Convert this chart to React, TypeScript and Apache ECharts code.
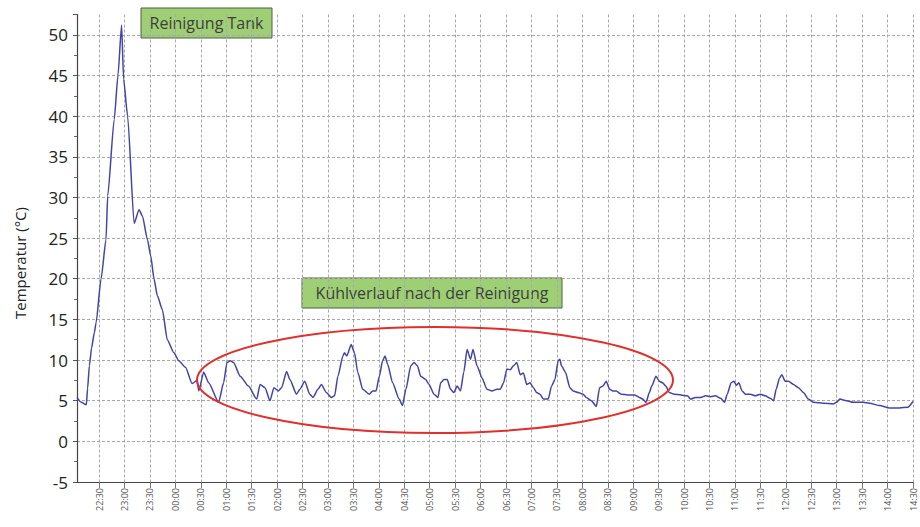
import React, { useEffect, useRef } from "react";
import * as echarts from "echarts";

// minutes after 22:00 (start day) for each sample
const minutes = [
  4, 9, 15, 16.5, 18.6, 21.2, 24.5, 26.5, 32.4, 38.2, 40.2, 47.9, 52.3, 56.6, 59, 63.7,
  71.4, 77.2, 81.2, 87.1, 91, 94.8, 98.8, 104.7, 110.5, 118.3, 124.1, 132, 139.8, 145.7,
  147.6, 153.4, 159.3, 171, 176.9, 180.9, 184.7, 188.6, 196.5, 206.2, 216, 219.9, 225.8,
  231.6, 236.3, 241.4, 245.3, 251.2, 255.1, 262.9, 266.8, 272.7, 278.5, 282.4, 288.2,
  292.2, 298.1, 303.9, 307.8, 311.7, 317.6, 319.5, 322.2, 327.4, 331.3, 335.1, 341,
  348.8, 352.7, 356.7, 360.6, 364.4, 367.3, 370.3, 376.2, 384, 387.9, 391.9, 397.7,
  401.6, 405.5, 409.4, 415.3, 419.2, 425, 429.7, 432.9, 436.8, 440.6, 444.6, 448.5,
  452.4, 456.3, 460.2, 464.1, 468.1, 471.1, 475.8, 481.7, 487.5, 493.4, 499.2, 503.2,
  507.1, 511, 515, 518.8, 522.7, 526.7, 530.5, 534.4, 538.4, 542.3, 546.1, 550.1, 554,
  559.8, 563.7, 567.7, 571.5, 573.5, 575.4, 580.1, 585.3, 589.2, 595, 600.9, 604.7,
  610.6, 616.5, 620.4, 624.3, 628.2, 632.2, 636, 639.9, 645.8, 653.6, 661.5, 667.3,
  671.2, 675.1, 679.1, 681.8, 686.9, 690.8, 694.7, 698.5, 702.5, 708.4, 716.1, 724,
  727.8, 733.7, 739.5, 745.4, 751.3, 757.1, 763, 767.7, 770.9, 775.5, 778.7, 781.7,
  784.6, 788.4, 792.3, 798.2, 804, 809.9, 815.8, 821.6, 825.6, 828.6, 832.6, 835.3,
  839.2, 843.2, 849, 854.9, 860.8, 866.6, 872.5, 884.2, 895.9, 899.8, 903.7, 911.5,
  919.4, 931.1, 938.8, 950.6, 962.3, 974, 983.9, 990,
];

// temperature in °C
const temps = [
  5.4, 4.8, 4.5, 6.5, 9.3, 11.5, 13.4, 14.6, 20, 24.8, 30.2, 39.6, 45, 51.2, 44.5, 40,
  26.8, 28.5, 27.7, 24.8, 22.8, 20, 17.9, 16.2, 12.5, 10.9, 9.9, 9.1, 7.1, 7.5,
  6.2, 8.5, 7.2, 4.8, 7.2, 9.7, 9.9, 9.7, 8.0, 6.8, 5.2, 7.0, 6.6,
  5.0, 6.6, 6.2, 6.6, 8.6, 7.6, 5.8, 6.4, 7.4, 5.8, 5.4, 6.4,
  7.0, 6.0, 5.4, 5.6, 8.0, 10.5, 10.9, 10.5, 11.9, 10.9, 8.5, 6.4,
  5.8, 6.2, 6.2, 8.0, 9.9, 10.5, 9.5, 7.2, 5.2, 4.4, 6.4, 9.3,
  9.7, 9.3, 8.0, 7.6, 7.0, 5.8, 5.4, 7.2, 7.6, 7.6, 6.4, 6.0,
  6.8, 6.2, 8.5, 11.3, 10.1, 11.3, 9.3, 7.8, 6.4, 6.2, 6.4, 6.4,
  7.2, 8.9, 8.8, 9.3, 9.7, 8.2, 8.4, 7.0, 7.2, 6.6, 6.0, 5.8, 5.2,
  5.2, 6.8, 7.6, 9.9, 10.1, 9.3, 8.5, 6.6, 6.2, 6.0, 5.8, 5.4,
  5.0, 4.3, 6.6, 6.8, 7.4, 6.4, 6.2, 6.2, 5.8, 5.7, 5.7, 5.4,
  5.2, 4.8, 6.0, 6.8, 8.0, 7.4, 7.2, 6.8, 6.0, 5.8, 5.7, 5.6,
  5.2, 5.4, 5.4, 5.6, 5.5, 5.6, 5.3, 4.8, 5.8, 7.2, 7.4, 6.9,
  7.2, 6.2, 5.8, 5.8, 5.6, 5.8, 5.6, 5.3, 5.0, 6.4, 7.8, 8.2,
  7.4, 7.4, 7.0, 6.6, 6.0, 5.2, 4.8, 4.7, 4.6, 4.8, 5.2, 5.0,
  4.8, 4.8, 4.7, 4.4, 4.1, 4.1, 4.2, 4.9,
];

const tickLabels = [
  "22:30", "23:00", "23:30", "00:00", "00:30", "01:00", "01:30", "02:00", "02:30",
  "03:00", "03:30", "04:00", "04:30", "05:00", "05:30", "06:00", "06:30", "07:00",
  "07:30", "08:00", "08:30", "09:00", "09:30", "10:00", "10:30", "11:00", "11:30",
  "12:00", "12:30", "13:00", "13:30", "14:00", "14:30",
];

const annotations = ["Reinigung Tank", "Kühlverlauf nach der Reinigung"];
const yTitle = "Temperatur (°C)";

function labelToMinutes(s: string): number {
  const [h, m] = s.split(":").map(Number);
  let hh = h - 22;
  if (hh < 0) hh += 24;
  return hh * 60 + m;
}

function minutesToLabel(v: number): string {
  const total = Math.round(v);
  const h = (22 + Math.floor(total / 60)) % 24;
  const m = total % 60;
  return String(h).padStart(2, "0") + ":" + String(m).padStart(2, "0");
}

export default function App() {
  const ref = useRef<HTMLDivElement>(null);

  useEffect(() => {
    if (!ref.current) return;
    const chart = echarts.init(ref.current, undefined, { renderer: "svg" });
    const tickValues = tickLabels.map(labelToMinutes);
    const data = minutes.map((m, i) => [m, temps[i]]);
    const font = "'Open Sans', 'Noto Sans', sans-serif";

    chart.setOption({
      animation: false,
      backgroundColor: "#ffffff",
      grid: { left: 77, right: 7, top: 14.5, bottom: 45, containLabel: false },
      xAxis: {
        type: "value",
        min: 4,
        max: 990,
        axisLine: { show: true, onZero: false, lineStyle: { color: "#444", width: 1.2 } },
        axisTick: {
          show: true,
          customValues: tickValues,
          length: 6,
          lineStyle: { color: "#777" },
        },
        axisLabel: {
          customValues: tickValues,
          rotate: 90,
          fontSize: 9,
          color: "#555",
          margin: 6,
          fontFamily: font,
          formatter: (v: number) => minutesToLabel(v),
        },
        splitLine: {
          show: true,
          lineStyle: { color: "#a8a8a8", type: [3, 2], width: 1 },
        },
      },
      yAxis: {
        type: "value",
        min: -5,
        max: 52.5,
        interval: 5,
        axisLine: { show: true, lineStyle: { color: "#444", width: 1.2 } },
        axisTick: { show: true, length: 4, lineStyle: { color: "#555" } },
        minorTick: { show: true, splitNumber: 2, length: 3, lineStyle: { color: "#666" } },
        axisLabel: {
          fontSize: 17,
          color: "#222",
          margin: 9,
          fontFamily: font,
          showMaxLabel: false,
          formatter: (v: number) => (v % 5 === 0 ? String(v) : ""),
        },
        splitLine: {
          show: true,
          showMaxLine: false,
          lineStyle: { color: "#a8a8a8", type: [3, 2], width: 1 },
        },
      },
      series: [
        {
          type: "line",
          data,
          showSymbol: false,
          smooth: 0.2,
          smoothMonotone: "x",
          lineStyle: { color: "#4444a8", width: 1.5 },
          z: 3,
        },
      ],
      graphic: [
        {
          type: "text",
          x: 20,
          y: 263,
          rotation: Math.PI / 2,
          style: {
            text: yTitle,
            fontSize: 15,
            fill: "#222",
            fontFamily: font,
            align: "center",
            verticalAlign: "middle",
          },
        },
        {
          type: "ellipse",
          shape: { cx: 435, cy: 380, rx: 238, ry: 53 },
          style: { fill: "none", stroke: "#e0302c", lineWidth: 2 },
          z: 10,
        },
        {
          type: "group",
          x: 141,
          y: 8,
          z: 10,
          children: [
            {
              type: "rect",
              shape: { x: 0, y: 0, width: 131, height: 30 },
              style: { fill: "#9fcf74", stroke: "#4f5e44", lineWidth: 1 },
            },
            {
              type: "text",
              x: 65.5,
              y: 15,
              style: {
                text: annotations[0],
                fontSize: 16,
                fill: "#3e3e3e",
                fontFamily: font,
                align: "center",
                verticalAlign: "middle",
              },
            },
          ],
        },
        {
          type: "group",
          x: 302,
          y: 278,
          z: 10,
          children: [
            {
              type: "rect",
              shape: { x: 0, y: 0, width: 260, height: 30 },
              style: { fill: "#9fcf74", stroke: "#4f5e44", lineWidth: 1 },
            },
            {
              type: "text",
              x: 130,
              y: 15,
              style: {
                text: annotations[1],
                fontSize: 16,
                fill: "#3e3e3e",
                fontFamily: font,
                align: "center",
                verticalAlign: "middle",
              },
            },
          ],
        },
      ],
    });

    return () => chart.dispose();
  }, []);

  return <div ref={ref} style={{ width: 920, height: 527, position: "fixed", left: 0, top: 0 }} />;
}
